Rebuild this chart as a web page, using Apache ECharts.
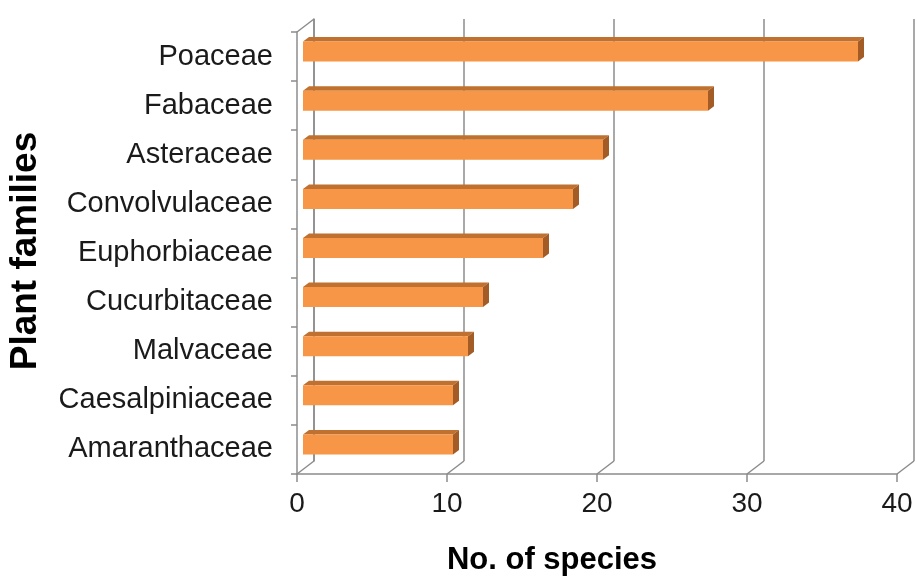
<!DOCTYPE html>
<html>
<head>
<meta charset="utf-8">
<script src="https://cdn.jsdelivr.net/npm/echarts@6/dist/echarts.min.js"></script>
<style>
html,body{margin:0;padding:0;background:#fff;}
#chart{width:917px;height:579px;}
</style>
</head>
<body>
<div id="chart"></div>
<script>
// ---- data ----
const categories = ['Poaceae','Fabaceae','Asteraceae','Convolvulaceae','Euphorbiaceae','Cucurbitaceae','Malvaceae','Caesalpiniaceae','Amaranthaceae'];
const speciesCounts = [37, 27, 20, 18, 16, 12, 11, 10, 10];
const xTicks = [0, 10, 20, 30, 40];
const xTitle = 'No. of species';
const yTitle = 'Plant families';

// ---- style / layout constants ----
const FONT = '"Liberation Sans", Arial, sans-serif';
const DEPTH_X = 17, DEPTH_Y = 13;      // wall depth offset
const BAR_OFF_X = 6, BAR_OFF_Y = -5;   // bar front face offset from front plane
const BAR_DX = 6, BAR_DY = 4.5;        // bar 3D thickness
const BAR_H = 20;
const GRID_COLOR = '#8c8c8c';

const chart = echarts.init(document.getElementById('chart'), null, {renderer: 'canvas'});

const barData = speciesCounts.map((v, i) => [v, i]);
const tickData = xTicks.map(v => [v, 0]);

const option = {
  backgroundColor: '#ffffff',
  animation: false,
  grid: [
    {left: 297, right: 20, top: 32, bottom: 105},
    {left: 297 + DEPTH_X, right: 20 - DEPTH_X, top: 32 - DEPTH_Y, bottom: 105 + DEPTH_Y}
  ],
  xAxis: [
    {
      gridIndex: 0, type: 'value', min: xTicks[0], max: xTicks[xTicks.length - 1], interval: 10,
      axisLine: {show: true, lineStyle: {color: GRID_COLOR, width: 1.5}},
      axisTick: {show: true, length: 8, lineStyle: {color: GRID_COLOR, width: 1.5}},
      axisLabel: {fontSize: 28, color: '#1a1a1a', fontFamily: FONT, margin: 16},
      splitLine: {show: false}
    },
    {
      gridIndex: 1, type: 'value', min: xTicks[0], max: xTicks[xTicks.length - 1], interval: 10,
      axisLine: {show: false}, axisTick: {show: false}, axisLabel: {show: false},
      splitLine: {show: true, lineStyle: {color: GRID_COLOR, width: 1.5}}
    }
  ],
  yAxis: [
    {
      gridIndex: 0, type: 'category', data: categories, inverse: true,
      axisLine: {show: true, lineStyle: {color: GRID_COLOR, width: 1.5}},
      axisTick: {show: true, length: 6, lineStyle: {color: GRID_COLOR, width: 1.5}},
      axisLabel: {fontSize: 29, color: '#1a1a1a', fontFamily: FONT, margin: 24},
      splitLine: {show: false}
    },
    {
      gridIndex: 1, type: 'category', data: categories, inverse: true,
      axisLine: {show: true, lineStyle: {color: GRID_COLOR, width: 1.5}},
      axisTick: {show: false}, axisLabel: {show: false}, splitLine: {show: false}
    }
  ],
  graphic: [
    {
      type: 'text', x: 552, y: 560,
      style: {text: xTitle, font: 'bold 31px ' + FONT, fill: '#000', textAlign: 'center', textVerticalAlign: 'middle'}
    },
    {
      type: 'text', x: 26, y: 251, rotation: Math.PI / 2,
      style: {text: yTitle, font: 'bold 37px ' + FONT, fill: '#000', textAlign: 'center', textVerticalAlign: 'middle'}
    }
  ],
  series: [
    {
      // wall connecting edges (front plane -> back wall)
      type: 'custom', xAxisIndex: 0, yAxisIndex: 0, clip: false, silent: true, z: 1,
      data: tickData,
      renderItem: function (params, api) {
        const cs = params.coordSys;
        const x = api.coord([api.value(0), 0])[0];
        const bottom = cs.y + cs.height;
        const children = [{
          type: 'line',
          shape: {x1: x, y1: bottom, x2: x + DEPTH_X, y2: bottom - DEPTH_Y},
          style: {stroke: GRID_COLOR, lineWidth: 1.5}
        }];
        if (api.value(0) === xTicks[0]) {
          children.push({
            type: 'line',
            shape: {x1: x, y1: cs.y, x2: x + DEPTH_X, y2: cs.y - DEPTH_Y},
            style: {stroke: GRID_COLOR, lineWidth: 1.5}
          });
        }
        return {type: 'group', children: children};
      }
    },
    {
      type: 'custom', xAxisIndex: 0, yAxisIndex: 0, clip: false, z: 5,
      data: barData,
      encode: {x: 0, y: 1},
      renderItem: function (params, api) {
        const idx = api.value(1);
        const s = api.coord([0, idx]);
        const e = api.coord([api.value(0), idx]);
        const x0 = s[0] + BAR_OFF_X, x1 = e[0] + BAR_OFF_X;
        const yc = s[1] + BAR_OFF_Y;
        const yt = yc - BAR_H / 2, yb = yc + BAR_H / 2;
        return {
          type: 'group',
          children: [
            {type: 'polygon', shape: {points: [[x0, yt], [x1, yt], [x1 + BAR_DX, yt - BAR_DY], [x0 + BAR_DX, yt - BAR_DY]]},
             style: {fill: '#C0712F'}},
            {type: 'polygon', shape: {points: [[x1, yt], [x1 + BAR_DX, yt - BAR_DY], [x1 + BAR_DX, yb - BAR_DY], [x1, yb]]},
             style: {fill: '#A35C25'}},
            {type: 'rect', shape: {x: x0, y: yt, width: x1 - x0, height: BAR_H},
             style: {fill: '#F79646'}}
          ]
        };
      }
    }
  ]
};
chart.setOption(option);
</script>
</body>
</html>
